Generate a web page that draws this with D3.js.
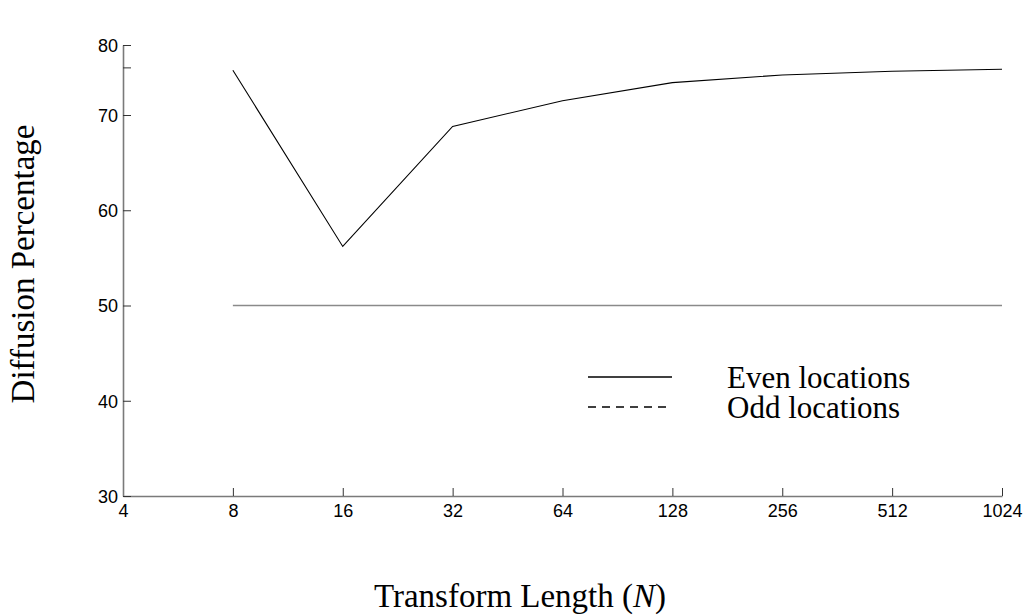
<!DOCTYPE html>
<html>
<head>
<meta charset="utf-8">
<script src="https://cdn.jsdelivr.net/npm/d3@7"></script>
<style>
  body { margin: 0; background: #fff; }
  svg { display: block; }
</style>
</head>
<body>
<svg id="chart" width="1027" height="615"></svg>
<script>
// Transform lengths and diffusion percentages
const lengths = [8, 16, 32, 64, 128, 256, 512, 1024];
const evenValues = [74.7, 56.2, 68.8, 71.5, 73.4, 74.2, 74.6, 74.8];
const oddValues = [50, 50, 50, 50, 50, 50, 50, 50];
const xTicks = [4, 8, 16, 32, 64, 128, 256, 512, 1024];
const yTicks = [30, 40, 50, 60, 70, 75];
const yTopLabel = "80";
const seriesNames = ["Even locations", "Odd locations"];

const svg = d3.select("#chart");
const plotLeft = 123, plotRight = 1002, plotBottom = 496, plotTop = 45;
const unit = (496 - 115) / 40; // px per percentage point

const x = d3.scaleLog().base(2).domain([4, 1024]).range([plotLeft, plotRight]);
const yMaxVal = 30 + (plotBottom - plotTop) / unit;
const y = d3.scaleLinear().domain([30, yMaxVal]).range([plotBottom, plotTop]);

const axisColor = "#7a7a7a";
const serif = "'Liberation Serif', 'Times New Roman', serif";
const sans = "'Liberation Sans', Arial, sans-serif";

// x axis with inward ticks
const xAxis = d3.axisBottom(x).tickValues(xTicks).tickSizeInner(-8).tickSizeOuter(0)
  .tickFormat(d3.format("d")).tickPadding(8);
const gx = svg.append("g").attr("transform", `translate(0,${plotBottom})`).call(xAxis);

// y axis with inward ticks; top tick carries the upper label
const yTickVals = yTicks.concat([yMaxVal]);
const yAxis = d3.axisLeft(y).tickValues(yTickVals).tickSizeInner(-8).tickSizeOuter(0)
  .tickPadding(5)
  .tickFormat(d => d === yMaxVal ? yTopLabel : (d % 10 === 0 ? d3.format("d")(d) : ""));
const gy = svg.append("g").attr("transform", `translate(${plotLeft},0)`).call(yAxis);

[gx, gy].forEach(g => {
  g.select(".domain").attr("stroke", axisColor).attr("stroke-width", 1.6);
  g.selectAll(".tick line").attr("stroke", "#333").attr("stroke-width", 1);
  g.selectAll(".tick text")
    .attr("font-family", sans)
    .attr("font-size", 18).attr("fill", "#000");
});
gx.selectAll(".tick text").attr("dy", "0.71em");
gy.selectAll(".tick text").attr("dy", "0.36em");
gx.selectAll(".tick").filter(d => d === 4).select("line").remove();

const line = d3.line().x((d, i) => x(lengths[i])).y(d => y(d));

// odd locations
svg.append("path").datum(oddValues)
  .attr("d", line).attr("fill", "none")
  .attr("stroke", "#8a8a8a").attr("stroke-width", 1.6);

// even locations
svg.append("path").datum(evenValues)
  .attr("d", line).attr("fill", "none")
  .attr("stroke", "#000").attr("stroke-width", 1.1);

// legend
const legend = svg.append("g");
const legendRows = [
  { name: seriesNames[0], dash: null, y: 377 },
  { name: seriesNames[1], dash: "8,6", y: 407 }
];
legendRows.forEach(r => {
  legend.append("line")
    .attr("x1", 588).attr("x2", 672).attr("y1", r.y).attr("y2", r.y)
    .attr("stroke", "#000").attr("stroke-width", 1.3)
    .attr("stroke-dasharray", r.dash);
  legend.append("text")
    .attr("x", 727).attr("y", r.y + 11)
    .attr("font-family", serif)
    .attr("font-size", 31).attr("fill", "#000")
    .text(r.name);
});

// axis titles
const xTitle = svg.append("text")
  .attr("x", 520).attr("y", 607)
  .attr("text-anchor", "middle")
  .attr("font-family", serif)
  .attr("font-size", 33).attr("fill", "#000");
xTitle.append("tspan").text("Transform Length (");
xTitle.append("tspan").attr("font-style", "italic").text("N");
xTitle.append("tspan").text(")");

svg.append("text")
  .attr("transform", "translate(34,264) rotate(-90)")
  .attr("text-anchor", "middle")
  .attr("font-family", serif)
  .attr("font-size", 33).attr("fill", "#000")
  .text("Diffusion Percentage");
</script>
</body>
</html>
